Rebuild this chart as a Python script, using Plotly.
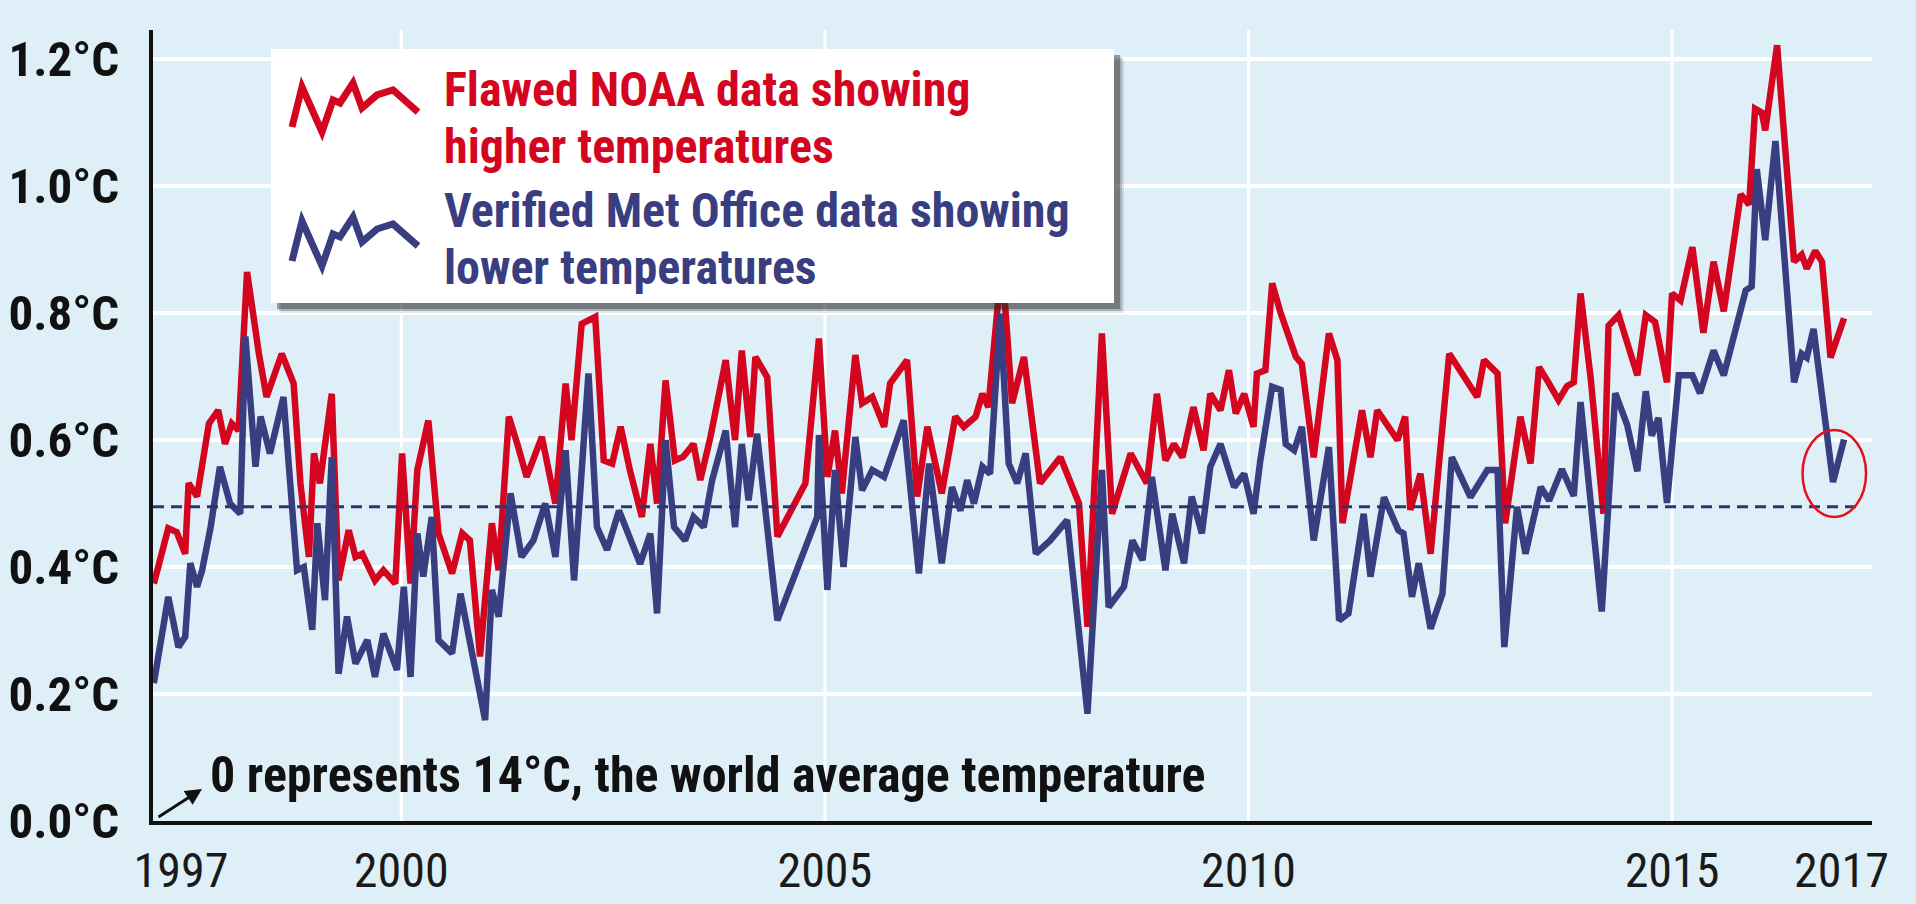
import plotly.graph_objects as go

# ---------------- data ----------------
noaa_years = [
    1997.08, 1997.25, 1997.35, 1997.45, 1997.49, 1997.59, 1997.73, 1997.84, 1997.92, 1998.00,
    1998.08, 1998.18, 1998.32, 1998.41, 1998.59, 1998.73, 1998.81, 1998.91, 1998.97, 1999.04,
    1999.18, 1999.26, 1999.38, 1999.46, 1999.54, 1999.69, 1999.79, 1999.93, 2000.01, 2000.11,
    2000.19, 2000.32, 2000.44, 2000.60, 2000.72, 2000.81, 2000.93, 2001.07, 2001.15, 2001.27,
    2001.37, 2001.48, 2001.66, 2001.82, 2001.94, 2002.01, 2002.13, 2002.29, 2002.39, 2002.49,
    2002.59, 2002.70, 2002.84, 2002.94, 2003.02, 2003.12, 2003.23, 2003.33, 2003.45, 2003.53,
    2003.65, 2003.83, 2003.94, 2004.02, 2004.12, 2004.18, 2004.32, 2004.44, 2004.77, 2004.93,
    2005.03, 2005.12, 2005.20, 2005.36, 2005.44, 2005.56, 2005.70, 2005.77, 2005.97, 2006.09,
    2006.21, 2006.38, 2006.54, 2006.64, 2006.78, 2006.86, 2006.93, 2007.09, 2007.21, 2007.35,
    2007.54, 2007.78, 2008.00, 2008.10, 2008.27, 2008.39, 2008.61, 2008.80, 2008.92, 2009.02,
    2009.12, 2009.22, 2009.35, 2009.47, 2009.55, 2009.67, 2009.77, 2009.85, 2009.95, 2010.06,
    2010.10, 2010.20, 2010.28, 2010.38, 2010.56, 2010.63, 2010.77, 2010.95, 2011.05, 2011.11,
    2011.34, 2011.44, 2011.52, 2011.76, 2011.85, 2011.91, 2012.03, 2012.15, 2012.37, 2012.70,
    2012.78, 2012.94, 2013.03, 2013.21, 2013.33, 2013.43, 2013.54, 2013.66, 2013.76, 2013.84,
    2013.92, 2014.04, 2014.19, 2014.25, 2014.37, 2014.59, 2014.69, 2014.80, 2014.94, 2015.00,
    2015.10, 2015.24, 2015.37, 2015.49, 2015.61, 2015.81, 2015.91, 2015.98, 2016.06, 2016.10,
    2016.24, 2016.44, 2016.53, 2016.59, 2016.69, 2016.77, 2016.87, 2017.03,
]
noaa_values = [
    0.374, 0.461, 0.455, 0.421, 0.532, 0.511, 0.626, 0.647, 0.594, 0.626,
    0.615, 0.865, 0.736, 0.668, 0.736, 0.689, 0.532, 0.416, 0.579, 0.532,
    0.673, 0.379, 0.458, 0.416, 0.421, 0.379, 0.395, 0.374, 0.579, 0.374,
    0.553, 0.631, 0.453, 0.390, 0.453, 0.442, 0.259, 0.469, 0.395, 0.637,
    0.594, 0.542, 0.605, 0.500, 0.689, 0.600, 0.783, 0.794, 0.568, 0.563,
    0.621, 0.552, 0.479, 0.594, 0.500, 0.694, 0.568, 0.574, 0.594, 0.537,
    0.605, 0.726, 0.600, 0.741, 0.605, 0.731, 0.699, 0.448, 0.532, 0.760,
    0.542, 0.615, 0.516, 0.734, 0.658, 0.668, 0.621, 0.689, 0.726, 0.511,
    0.621, 0.516, 0.637, 0.621, 0.637, 0.673, 0.652, 0.883, 0.658, 0.731,
    0.532, 0.573, 0.500, 0.306, 0.768, 0.484, 0.579, 0.532, 0.673, 0.568,
    0.594, 0.573, 0.652, 0.584, 0.673, 0.647, 0.710, 0.642, 0.673, 0.621,
    0.705, 0.710, 0.847, 0.800, 0.731, 0.720, 0.573, 0.768, 0.726, 0.469,
    0.647, 0.573, 0.647, 0.600, 0.637, 0.490, 0.547, 0.421, 0.736, 0.668,
    0.726, 0.705, 0.469, 0.637, 0.563, 0.715, 0.691, 0.663, 0.685, 0.691,
    0.831, 0.697, 0.484, 0.780, 0.797, 0.702, 0.797, 0.786, 0.691, 0.831,
    0.820, 0.904, 0.769, 0.881, 0.803, 0.987, 0.971, 1.122, 1.116, 1.088,
    1.222, 0.881, 0.892, 0.870, 0.898, 0.881, 0.730, 0.792,
]

met_years = [
    1997.08, 1997.25, 1997.37, 1997.45, 1997.51, 1997.59, 1997.65, 1997.75, 1997.86, 1997.98,
    1998.10, 1998.16, 1998.28, 1998.34, 1998.45, 1998.61, 1998.77, 1998.85, 1998.95, 1999.01,
    1999.10, 1999.18, 1999.26, 1999.36, 1999.46, 1999.60, 1999.69, 1999.79, 1999.95, 2000.03,
    2000.11, 2000.19, 2000.26, 2000.36, 2000.44, 2000.60, 2000.70, 2000.99, 2001.07, 2001.15,
    2001.29, 2001.42, 2001.56, 2001.70, 2001.82, 2001.94, 2002.04, 2002.21, 2002.31, 2002.43,
    2002.57, 2002.82, 2002.94, 2003.02, 2003.12, 2003.22, 2003.35, 2003.45, 2003.57, 2003.67,
    2003.83, 2003.94, 2004.02, 2004.10, 2004.20, 2004.44, 2004.91, 2004.93, 2005.03, 2005.12,
    2005.22, 2005.36, 2005.44, 2005.56, 2005.70, 2005.93, 2006.11, 2006.23, 2006.38, 2006.50,
    2006.60, 2006.68, 2006.76, 2006.86, 2006.95, 2007.07, 2007.17, 2007.27, 2007.37, 2007.49,
    2007.66, 2007.86, 2007.98, 2008.10, 2008.27, 2008.35, 2008.53, 2008.63, 2008.75, 2008.86,
    2009.02, 2009.10, 2009.24, 2009.33, 2009.45, 2009.55, 2009.67, 2009.83, 2009.95, 2010.06,
    2010.14, 2010.28, 2010.38, 2010.44, 2010.54, 2010.63, 2010.77, 2010.95, 2011.07, 2011.18,
    2011.36, 2011.44, 2011.60, 2011.77, 2011.83, 2011.93, 2012.01, 2012.15, 2012.29, 2012.40,
    2012.62, 2012.82, 2012.94, 2013.02, 2013.17, 2013.27, 2013.45, 2013.55, 2013.70, 2013.84,
    2013.92, 2014.02, 2014.17, 2014.33, 2014.47, 2014.59, 2014.69, 2014.76, 2014.84, 2014.94,
    2015.08, 2015.24, 2015.33, 2015.49, 2015.61, 2015.87, 2015.94, 2016.00, 2016.10, 2016.22,
    2016.44, 2016.53, 2016.59, 2016.67, 2016.90, 2017.03,
]
met_values = [
    0.217, 0.353, 0.274, 0.290, 0.406, 0.369, 0.395, 0.463, 0.558, 0.500,
    0.484, 0.763, 0.558, 0.637, 0.579, 0.668, 0.395, 0.400, 0.301, 0.469,
    0.348, 0.573, 0.232, 0.322, 0.248, 0.285, 0.227, 0.295, 0.238, 0.369,
    0.227, 0.453, 0.385, 0.479, 0.285, 0.264, 0.358, 0.159, 0.364, 0.322,
    0.516, 0.416, 0.442, 0.500, 0.416, 0.584, 0.379, 0.705, 0.463, 0.427,
    0.489, 0.405, 0.453, 0.327, 0.600, 0.463, 0.442, 0.479, 0.463, 0.537,
    0.615, 0.463, 0.594, 0.505, 0.610, 0.316, 0.479, 0.608, 0.364, 0.553,
    0.400, 0.605, 0.521, 0.553, 0.542, 0.631, 0.390, 0.563, 0.406, 0.526,
    0.489, 0.537, 0.500, 0.558, 0.547, 0.799, 0.563, 0.532, 0.579, 0.421,
    0.442, 0.474, 0.322, 0.169, 0.553, 0.337, 0.369, 0.442, 0.411, 0.542,
    0.395, 0.484, 0.406, 0.511, 0.453, 0.558, 0.594, 0.526, 0.547, 0.484,
    0.568, 0.684, 0.679, 0.594, 0.584, 0.621, 0.442, 0.589, 0.316, 0.327,
    0.484, 0.385, 0.510, 0.458, 0.453, 0.353, 0.406, 0.303, 0.358, 0.573,
    0.510, 0.553, 0.553, 0.274, 0.495, 0.421, 0.526, 0.505, 0.554, 0.512,
    0.660, 0.531, 0.330, 0.674, 0.624, 0.551, 0.677, 0.607, 0.635, 0.501,
    0.702, 0.702, 0.674, 0.741, 0.702, 0.836, 0.842, 1.027, 0.915, 1.071,
    0.691, 0.736, 0.730, 0.775, 0.534, 0.601,
]

y_tick_values = [0.0, 0.2, 0.4, 0.6, 0.8, 1.0, 1.2]
y_tick_labels = ["0.0°C", "0.2°C", "0.4°C", "0.6°C", "0.8°C", "1.0°C", "1.2°C"]
x_tick_values = [1997.4, 2000, 2005, 2010, 2015, 2017]
x_tick_labels = ["1997", "2000", "2005", "2010", "2015", "2017"]
grid_years = [2000, 2005, 2010, 2015]
reference_level = 0.495

legend_noaa = ["Flawed NOAA data showing", "higher temperatures"]
legend_met = ["Verified Met Office data showing", "lower temperatures"]
note_text = "0 represents 14°C, the world average temperature"

# ---------------- styling ----------------
RED = "#D4061F"
NAVY = "#383E80"
BG = "#DFEFF7"
FONT = "Roboto Condensed, Open Sans Condensed, sans-serif"

W, H = 1916, 904
L, R, T, B = 153, 44, 30, 83
PW, PH = W - L - R, H - T - B


def px(x):
    return (x - L) / PW


def py(y):
    return (H - B - y) / PH


fig = go.Figure()

fig.add_trace(go.Scatter(x=noaa_years, y=noaa_values, mode="lines",
                         line=dict(color=RED, width=6.5), hoverinfo="skip",
                         showlegend=False))
fig.add_trace(go.Scatter(x=met_years, y=met_values, mode="lines",
                         line=dict(color=NAVY, width=6.5), hoverinfo="skip",
                         showlegend=False))

shapes = []
# vertical white gridlines
for g in grid_years:
    shapes.append(dict(type="line", xref="x", yref="paper", x0=g, x1=g, y0=0, y1=1,
                       line=dict(color="white", width=3), layer="below"))
# dashed reference line
shapes.append(dict(type="line", xref="x", yref="y", x0=1997.07, x1=2017.25,
                   y0=reference_level, y1=reference_level,
                   line=dict(color="#2E3473", width=3, dash="11px,7px"), layer="above"))
# red circle around last point
shapes.append(dict(type="circle", xref="x", yref="y", x0=2016.54, x1=2017.29,
                   y0=0.479, y1=0.616, line=dict(color="#E5101C", width=2.5)))

# legend box with shadow
bx0, bx1, by0, by1 = 271, 1114, 49, 303
for off, op in [(10, 0.12), (8, 0.22), (6, 0.4)]:
    shapes.append(dict(type="rect", xref="paper", yref="paper",
                       x0=px(bx0 + off), x1=px(bx1 + off), y0=py(by1 + off), y1=py(by0 + off),
                       fillcolor=f"rgba(40,40,40,{op})", line=dict(width=0)))
shapes.append(dict(type="rect", xref="paper", yref="paper",
                   x0=px(bx0), x1=px(bx1), y0=py(by1), y1=py(by0),
                   fillcolor="white", line=dict(width=0)))

# zigzag icons
icon = [(0, 44), (10, 4), (30, 49), (41, 17), (48, 20), (61, 0), (70, 25), (85, 12), (101, 7), (126, 29)]
for (ox, oy, col) in [(292, 83, RED), (292, 217, NAVY)]:
    path = "M " + " L ".join(f"{px(ox + dx):.5f},{py(oy + dy):.5f}" for dx, dy in icon)
    shapes.append(dict(type="path", xref="paper", yref="paper", path=path,
                       line=dict(color=col, width=7)))

annotations = []
text_x = 442
for txt, yc, col in [(legend_noaa[0], 89, RED), (legend_noaa[1], 146, RED),
                     (legend_met[0], 210, NAVY), (legend_met[1], 267, NAVY)]:
    annotations.append(dict(xref="paper", yref="paper", x=px(text_x), y=py(yc),
                            xanchor="left", yanchor="middle", text=txt, showarrow=False,
                            font=dict(family=FONT, size=48, color=col, weight="bold")))

annotations.append(dict(xref="paper", yref="paper", x=px(208), y=py(775),
                        xanchor="left", yanchor="middle", text=note_text, showarrow=False,
                        font=dict(family=FONT, size=50, color="#111111", weight="bold")))
annotations.append(dict(xref="paper", yref="paper", x=px(202), y=py(789), text="",
                        showarrow=True, arrowhead=2, arrowsize=1.1, arrowwidth=3,
                        arrowcolor="#111111", ax=-45, ay=29))

fig.update_layout(
    width=W, height=H,
    margin=dict(l=L, r=R, t=T, b=B, pad=0, autoexpand=False),
    paper_bgcolor=BG, plot_bgcolor=BG,
    shapes=shapes, annotations=annotations,
    showlegend=False,
)
fig.update_xaxes(range=[1997.07, 2017.36], showgrid=False, zeroline=False, automargin=False,
                 showline=True, linecolor="#111111", linewidth=4,
                 tickmode="array", tickvals=x_tick_values, ticktext=x_tick_labels,
                 ticks="outside", ticklen=4, tickcolor="rgba(0,0,0,0)",
                 tickfont=dict(family=FONT, size=48, color="#1a1a1a"))
fig.update_yaxes(range=[0, 1.246], showgrid=True, gridcolor="white", gridwidth=4,
                 zeroline=False, showline=True, linecolor="#111111", linewidth=4, automargin=False,
                 tickmode="array", tickvals=y_tick_values, ticktext=y_tick_labels,
                 ticks="outside", ticklen=20, tickcolor="rgba(0,0,0,0)",
                 tickfont=dict(family=FONT, size=49, color="#111111", weight="bold"))

fig.write_html("out.html")
